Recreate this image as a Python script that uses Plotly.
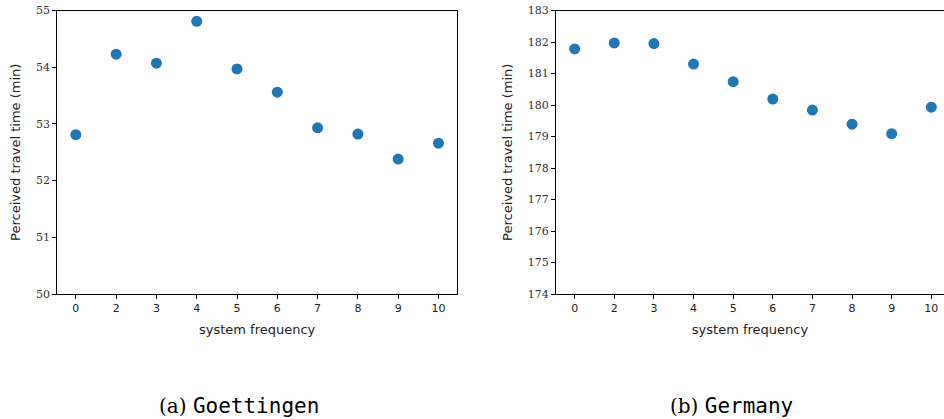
import plotly.graph_objects as go

categories = ["0", "2", "3", "4", "5", "6", "7", "8", "9", "10"]
goettingen = [52.81, 54.23, 54.07, 54.81, 53.97, 53.56, 52.93, 52.82, 52.38, 52.66]
germany = [181.78, 181.97, 181.95, 181.30, 180.74, 180.19, 179.84, 179.39, 179.09, 179.93]
y1_ticks = [50, 51, 52, 53, 54, 55]
y2_ticks = list(range(174, 184))

W, H = 944, 419
BLUE = "#1f77b4"

fig = go.Figure()
fig.add_trace(go.Scatter(x=categories, y=goettingen, mode="markers",
                         marker=dict(color=BLUE, size=11, line=dict(width=0)),
                         xaxis="x", yaxis="y", showlegend=False))
fig.add_trace(go.Scatter(x=categories, y=germany, mode="markers",
                         marker=dict(color=BLUE, size=11, line=dict(width=0)),
                         xaxis="x2", yaxis="y2", showlegend=False))

top = 1 - 10.5 / H
bot = 1 - 294 / H

xcommon = dict(type="category", showline=True, linecolor="black", linewidth=1.2,
               mirror=True, ticks="outside", ticklen=4, tickcolor="black",
               showgrid=False, zeroline=False, automargin=False,
               tickfont=dict(family="DejaVu Sans", size=11, color="#222"),
               title=dict(text="system frequency",
                          font=dict(family="DejaVu Sans", size=13, color="#222"),
                          standoff=10))
ycommon = dict(showline=True, linecolor="black", linewidth=1.2,
               ticks="outside", ticklen=4, tickcolor="black",
               showgrid=False, zeroline=False, automargin=False,
               tickfont=dict(family="DejaVu Serif", size=11, color="#333"),
               title=dict(text="Perceived travel time (min)",
                          font=dict(family="DejaVu Sans", size=13, color="#222"),
                          standoff=12))

fig.update_layout(
    width=W, height=H,
    margin=dict(l=0, r=0, t=0, b=0),
    paper_bgcolor="white", plot_bgcolor="white",
    xaxis=dict(xcommon, domain=[57.3 / W, 457 / W], range=[-0.46, 9.46], anchor="y"),
    yaxis=dict(ycommon, domain=[bot, top], range=[50, 55], tickvals=y1_ticks,
               mirror=True, anchor="x"),
    xaxis2=dict(xcommon, domain=[556 / W, 1.0], range=[-0.47, 9.32], anchor="y2"),
    yaxis2=dict(ycommon, domain=[bot, top], range=[174, 183], tickvals=y2_ticks,
                mirror=False, anchor="x2"),
    annotations=[
        dict(text="(a) <span style='font-family:\"DejaVu Sans Mono\"; font-size:21px'>Goettingen</span>",
             x=239 / W, y=1 - 406 / H, xref="paper", yref="paper",
             xanchor="center", yanchor="middle",
             showarrow=False, font=dict(family="DejaVu Serif", size=20, color="black")),
        dict(text="(b) <span style='font-family:\"DejaVu Sans Mono\"; font-size:21px'>Germany</span>",
             x=731 / W, y=1 - 406 / H, xref="paper", yref="paper",
             xanchor="center", yanchor="middle",
             showarrow=False, font=dict(family="DejaVu Serif", size=20, color="black")),
    ],
)

fig.write_html("out.html", config={"displayModeBar": False},
               post_script="document.body.style.margin='0';document.body.style.overflow='hidden';")
